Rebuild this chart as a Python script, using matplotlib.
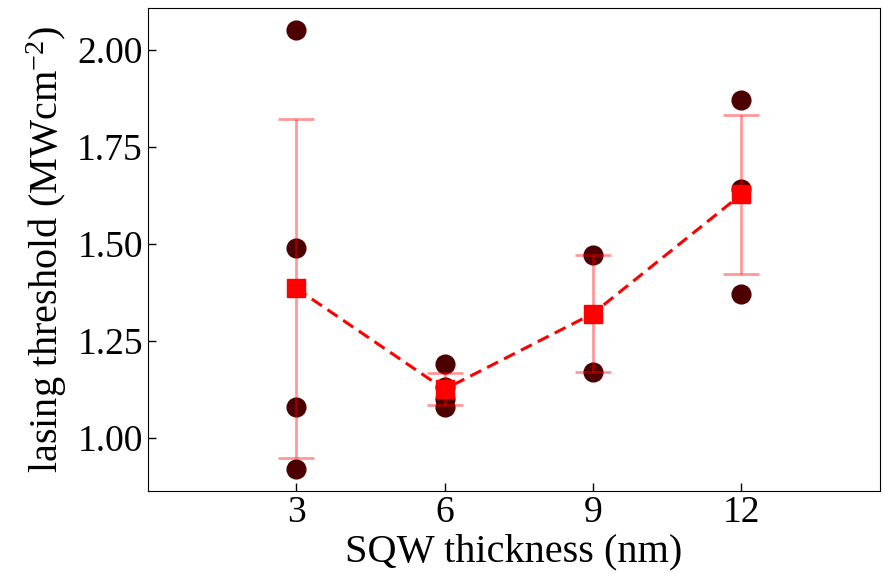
import matplotlib
matplotlib.use('Agg')
import matplotlib.pyplot as plt
import numpy as np

plt.rcParams['font.family'] = ['Liberation Serif', 'DejaVu Serif']
plt.rcParams['mathtext.fontset'] = 'custom'
plt.rcParams['mathtext.rm'] = 'Liberation Serif'
plt.rcParams['mathtext.it'] = 'Liberation Serif:italic'

# lasing thresholds for each single quantum well thickness
thickness = [3, 6, 9, 12]
thresholds = [
    [2.05, 1.49, 1.08, 0.92],
    [1.19, 1.13, 1.10, 1.08],
    [1.47, 1.17],
    [1.87, 1.64, 1.37],
]

means = np.array([np.mean(t) for t in thresholds])
stds = np.array([np.std(t) for t in thresholds])

fig, ax = plt.subplots(figsize=(8.85, 5.85), dpi=100)
fig.subplots_adjust(left=0.167, right=0.994, bottom=0.161, top=0.986)

for x, vals in zip(thickness, thresholds):
    ax.plot([x] * len(vals), vals, 'o', color='#4d0000', markersize=13.5, zorder=2)

ax.errorbar(thickness, means, yerr=stds, fmt='none', ecolor='red', alpha=0.4,
            elinewidth=2, capsize=13, capthick=2, zorder=3)
ax.plot(thickness, means, 's--', color='red', markersize=12.5, linewidth=2.2,
        dashes=(4, 2.2), zorder=4)

ax.set_xlim(0, 14.8)
ax.set_xticks(thickness)
ax.set_yticks([1.00, 1.25, 1.50, 1.75, 2.00])
ax.set_yticklabels(['1.00', '1.25', '1.50', '1.75', '2.00'])
ax.tick_params(direction='in', labelsize=27, length=6, width=1)
ax.set_xlabel('SQW thickness (nm)', fontsize=29, labelpad=2)
ax.set_ylabel('lasing threshold (MWcm$^{-2}$)', fontsize=29, labelpad=6)

plt.savefig('out.png', dpi=100)
